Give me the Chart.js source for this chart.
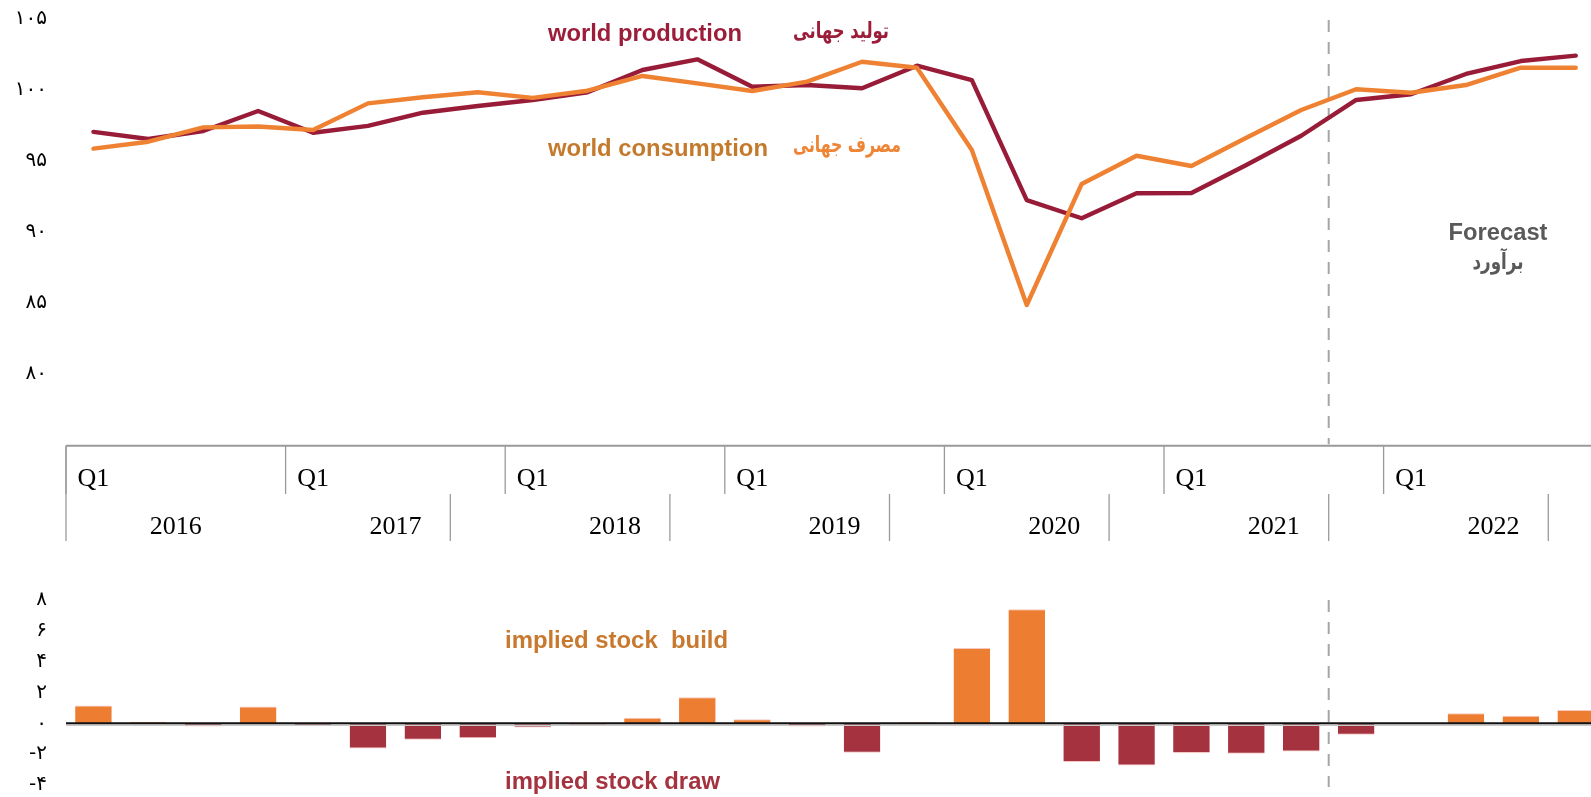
<!DOCTYPE html>
<html>
<head>
<meta charset="utf-8">
<script src="https://cdn.jsdelivr.net/npm/chart.js@4.4.1/dist/chart.umd.min.js"></script>
<style>
  html, body { margin: 0; padding: 0; background: #fff; overflow: hidden; }
  #wrap { position: relative; width: 1591px; height: 797px; overflow: hidden; }
  canvas { position: absolute; left: 0; }
  #supplyChart { top: 0; }
  #stockChart { top: 560px; }
</style>
</head>
<body>
<div id="wrap">
  <canvas id="supplyChart" width="1610" height="545"></canvas>
  <canvas id="stockChart" width="1610" height="237"></canvas>
</div>
<script>
// quarterly world oil balance, 2016 - 2022 (mb/d)
const years = ["2016", "2017", "2018", "2019", "2020", "2021", "2022"];
const quarterNames = ["Q1", "Q2", "Q3", "Q4"];

const production = [
  97.0, 96.5, 97.06, 98.47, 96.94, 97.42, 98.35, 98.82,
  99.25, 99.79, 101.36, 102.11, 100.18, 100.3, 100.07, 101.66,
  100.65, 92.2, 90.92, 92.68, 92.7, 94.67, 96.73, 99.25,
  99.65, 101.08, 101.99, 102.37,
];
const consumption = [
  95.82, 96.31, 97.32, 97.38, 97.13, 99.01, 99.44, 99.79,
  99.4, 99.9, 100.94, 100.42, 99.88, 100.54, 101.94, 101.52,
  95.73, 84.81, 93.33, 95.32, 94.6, 96.59, 98.54, 100.0,
  99.76, 100.3, 101.52, 101.52,
];
const stockChange = [
  1.15, 0.1, -0.2, 1.09, -0.15, -1.63, -1.07, -0.96,
  -0.27, -0.1, 0.36, 1.7, 0.27, -0.2, -1.91, 0.08,
  4.89, 7.4, -2.51, -2.73, -1.93, -1.97, -1.82, -0.74,
  0.03, 0.66, 0.49, 0.87,
];

const supplyTicks = [80, 85, 90, 95, 100, 105];
const stockTicks = [-4, -2, 0, 2, 4, 6, 8];
const forecastStart = 23; // 2021 Q4

const quarters = years.flatMap((y) => quarterNames.map((q) => y + " " + q));

const RED = "#981c38";
const ORANGE = "#ef8232";
const BAR_RED = "#a5333f";
const BAR_ORANGE = "#ed7d31";
const GREY = "#a6a6a6";

const faDigits = "۰۱۲۳۴۵۶۷۸۹";
const toFa = (n) => String(n).replace(/\d/g, (d) => faDigits[d]);

function line(ctx, x1, y1, x2, y2) {
  ctx.beginPath();
  ctx.moveTo(x1, y1);
  ctx.lineTo(x2, y2);
  ctx.stroke();
}

// draws text squeezed/stretched to a given width
function fitText(ctx, text, x, y, width, font, color, align) {
  ctx.save();
  ctx.font = font;
  ctx.fillStyle = color;
  ctx.textBaseline = "alphabetic";
  ctx.textAlign = "left";
  const w = ctx.measureText(text).width;
  const sx = width / w;
  let left = x;
  if (align === "center") left = x - width / 2;
  ctx.translate(left, y);
  ctx.scale(sx, 1);
  ctx.fillText(text, 0, 0);
  ctx.restore();
}

function forecastLine(chart, top, bottom) {
  const { ctx, scales } = chart;
  const x = scales.x;
  const px = (x.getPixelForValue(forecastStart - 1) + x.getPixelForValue(forecastStart)) / 2;
  ctx.save();
  ctx.strokeStyle = GREY;
  ctx.lineWidth = 2;
  ctx.setLineDash([12, 10]);
  line(ctx, px, top, px, bottom);
  ctx.restore();
}

const tickFont = '20px "DejaVu Sans"';
const faBold = 'bold 22px "DejaVu Sans", sans-serif';
const enBold = 'bold 23px "Liberation Sans", Arial, sans-serif';

const supplyDecor = {
  id: "supplyDecor",
  beforeDatasetsDraw(chart) {
    forecastLine(chart, 20, chart.chartArea.bottom);
  },
  afterDraw(chart) {
    const { ctx, chartArea: area, scales } = chart;
    const x = scales.x, y = scales.y;
    const step = x.getPixelForValue(1) - x.getPixelForValue(0);
    const edge = (i) => x.getPixelForValue(i) - step / 2;
    const axisY = area.bottom + 1.5;
    const tickBottom = 494;
    const yearBottom = 541;

    ctx.save();
    ctx.fillStyle = "#000";
    ctx.font = tickFont;
    ctx.textAlign = "right";
    ctx.textBaseline = "middle";
    supplyTicks.forEach((v) => ctx.fillText(toFa(v), 47, y.getPixelForValue(v)));

    // category axis
    ctx.strokeStyle = "#9a9a9a";
    ctx.lineWidth = 2;
    line(ctx, edge(0), axisY, chart.width, axisY);
    ctx.lineWidth = 1.3;
    for (let i = 0; i < quarters.length; i += 4) line(ctx, edge(i), axisY, edge(i), tickBottom);
    line(ctx, edge(0), axisY, edge(0), yearBottom);
    for (let i = 7; i < quarters.length; i += 4) line(ctx, edge(i), tickBottom, edge(i), yearBottom);

    ctx.fillStyle = "#000";
    ctx.font = '26px "Liberation Serif", "Times New Roman", serif';
    ctx.textAlign = "center";
    ctx.textBaseline = "alphabetic";
    for (let i = 0; i < quarters.length; i += 4) {
      ctx.fillText(quarterNames[0], x.getPixelForValue(i), 486);
    }
    years.forEach((yr, k) => {
      const cx = (x.getPixelForValue(k * 4 + 1) + x.getPixelForValue(k * 4 + 2)) / 2;
      ctx.fillText(yr, cx, 534);
    });
    ctx.restore();

    // series names and forecast note
    fitText(ctx, "world production", 548, 41, 194, enBold, "#9b1d3a");
    fitText(ctx, "تولید جهانی", 793, 38, 96, faBold, "#9b1d3a");
    fitText(ctx, "world consumption", 548, 156, 220, enBold, "#c47a2c");
    fitText(ctx, "مصرف جهانی", 793, 152, 108, faBold, "#ee8434");
    fitText(ctx, "Forecast", 1498, 240, 99, enBold, "#595959", "center");
    fitText(ctx, "برآورد", 1498, 269, 51, faBold, "#595959", "center");
  },
};

const stockDecor = {
  id: "stockDecor",
  beforeDatasetsDraw(chart) {
    forecastLine(chart, chart.chartArea.top, chart.chartArea.bottom + 2);
  },
  afterDatasetsDraw(chart) {
    const { ctx, chartArea: area, scales } = chart;
    const y = scales.y;
    const zero = y.getPixelForValue(0);
    ctx.save();
    ctx.strokeStyle = "#c8c8c8";
    ctx.lineWidth = 1.5;
    line(ctx, area.left, zero + 2, chart.width, zero + 2);
    ctx.strokeStyle = "#111";
    ctx.lineWidth = 2;
    line(ctx, area.left, zero, chart.width, zero);

    ctx.fillStyle = "#000";
    ctx.font = tickFont;
    ctx.textAlign = "right";
    ctx.textBaseline = "middle";
    stockTicks.forEach((v) => ctx.fillText(toFa(v), 47, y.getPixelForValue(v)));
    ctx.restore();

    fitText(ctx, "implied stock  build", 505, 648 - 560, 223, enBold, "#c8792e");
    fitText(ctx, "implied stock draw", 505, 789 - 560, 215, enBold, "#a5333f");
  },
};

const plotLeft = 66;
const plotRight = 66 + 28 * 54.9;

new Chart(document.getElementById("supplyChart"), {
  type: "line",
  data: {
    labels: quarters,
    datasets: [
      {
        label: "world production",
        data: production,
        borderColor: RED,
        borderWidth: 4.4,
        pointRadius: 0,
        borderJoinStyle: "round",
        borderCapStyle: "round",
        order: 2,
      },
      {
        label: "world consumption",
        data: consumption,
        borderColor: ORANGE,
        borderWidth: 4.4,
        pointRadius: 0,
        borderJoinStyle: "round",
        borderCapStyle: "round",
        order: 1,
      },
    ],
  },
  options: {
    responsive: false,
    animation: false,
    devicePixelRatio: 1,
    layout: {
      padding: { left: plotLeft, right: 1610 - plotRight, top: 18.3, bottom: 545 - 444.3 },
    },
    plugins: { legend: { display: false }, tooltip: { enabled: false } },
    scales: {
      x: { display: false, offset: true },
      y: { display: false, min: 75, max: 105 },
    },
  },
  plugins: [supplyDecor],
});

new Chart(document.getElementById("stockChart"), {
  type: "bar",
  data: {
    labels: quarters,
    datasets: [
      {
        label: "implied stock change",
        data: stockChange,
        backgroundColor: (c) => (c.raw >= 0 ? BAR_ORANGE : BAR_RED),
        borderColor: "#f6c7c0",
        borderWidth: (c) =>
          c.raw >= 0
            ? { top: 1, left: 0, right: 0, bottom: 0 }
            : { top: 0, left: 0, right: 0, bottom: 1 },
        borderSkipped: false,
        barPercentage: 0.667,
        categoryPercentage: 1,
      },
    ],
  },
  options: {
    responsive: false,
    animation: false,
    devicePixelRatio: 1,
    layout: {
      padding: { left: plotLeft, right: 1610 - plotRight, top: 40, bottom: 237 - 225 },
    },
    plugins: { legend: { display: false }, tooltip: { enabled: false } },
    scales: {
      x: { display: false, offset: true },
      y: { display: false, min: -4, max: 8 },
    },
  },
  plugins: [stockDecor],
});
</script>
</body>
</html>
